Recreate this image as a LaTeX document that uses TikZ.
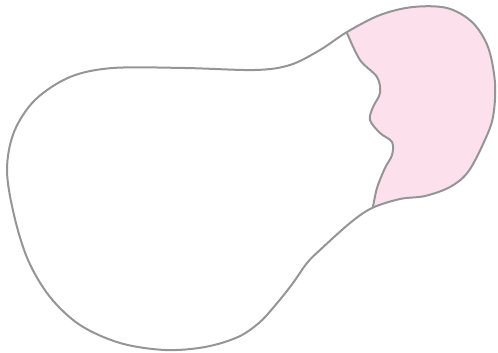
\documentclass[tikz,border=0pt]{standalone}
\definecolor{outl}{HTML}{959595}
\definecolor{pinkf}{HTML}{FCE0EC}
\tikzset{outline/.style={draw=outl, line width=2pt, line join=round}}
\begin{document}
\begin{tikzpicture}[x=1pt,y=-1pt]
\useasboundingbox (0,0) rectangle (498,353);
\def\outer{plot[smooth cycle, tension=0.55] coordinates {
(113,68) (185,68) (255,70) (290,65) (320,50) (347,32) (380,15) (413,7) (447,8) (472,22) (488,47) (495,83) (493,117) (484,142) (468,172) (450,187) (425,196) (400,199) (372,208) (350,223) (320,250) (307,263) (293,283) (278,302) (260,322) (238,337) (205,347) (165,350) (120,343) (80,325) (50,297) (28,260) (14,215) (7,170) (14,132) (35,100) (70,77)}}
\begin{scope}
\clip \outer;
\fill[pinkf] plot[smooth, tension=0.55] coordinates {(343,22) (347,33) (360,60) (377,77) (380,93) (373,107) (370,120) (380,133) (392,142) (392,155) (385,168) (377,188) (373,207) (372,222)} -- (520,225) -- (520,-10) -- (343,-10) -- cycle;
\end{scope}
\draw[outline] \outer;
\draw[outline] plot[smooth, tension=0.55] coordinates {(347,33) (360,60) (377,77) (380,93) (373,107) (370,120) (380,133) (392,142) (392,155) (385,168) (377,188) (373,207)};
\end{tikzpicture}
\end{document}
